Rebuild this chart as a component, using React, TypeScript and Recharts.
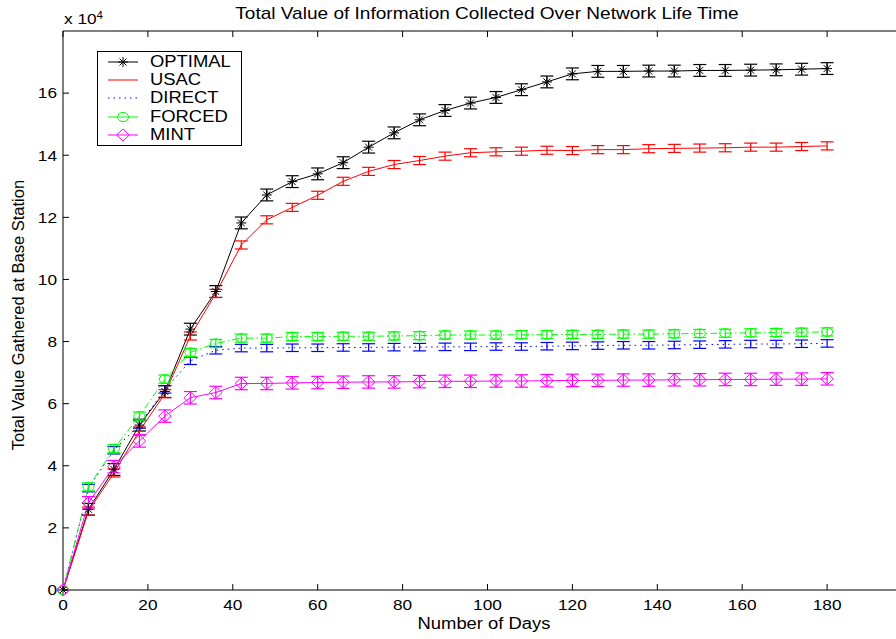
import { LineChart, Line, XAxis, YAxis, ErrorBar, Legend } from 'recharts'

const FONT = '"Liberation Sans", Arial, Helvetica, sans-serif'
const STRETCH = 1.15

const days = [0, 6, 12, 18, 24, 30, 36, 42, 48, 54, 60, 66, 72, 78, 84, 90, 96, 102, 108, 114, 120, 126, 132, 138, 144, 150, 156, 162, 168, 174, 180]

// values in units of 10^4
const optimal = [0, 2.6, 3.88, 5.31, 6.39, 8.4, 9.61, 11.82, 12.72, 13.15, 13.4, 13.76, 14.26, 14.72, 15.14, 15.44, 15.68, 15.86, 16.11, 16.36, 16.62, 16.7, 16.7, 16.71, 16.71, 16.73, 16.73, 16.74, 16.75, 16.77, 16.79]
const usac = [0, 2.54, 3.77, 5.12, 6.32, 8.18, 9.55, 11.11, 11.92, 12.32, 12.71, 13.16, 13.48, 13.7, 13.83, 13.97, 14.08, 14.11, 14.13, 14.16, 14.15, 14.18, 14.18, 14.21, 14.22, 14.23, 14.24, 14.26, 14.26, 14.28, 14.3]
const direct = [0, 3.28, 4.5, 5.33, 6.46, 7.38, 7.72, 7.79, 7.79, 7.8, 7.8, 7.81, 7.81, 7.82, 7.82, 7.83, 7.83, 7.84, 7.84, 7.85, 7.86, 7.87, 7.88, 7.88, 7.89, 7.9, 7.91, 7.92, 7.92, 7.93, 7.94]
const forced = [0, 3.32, 4.55, 5.6, 6.79, 7.65, 7.94, 8.11, 8.11, 8.16, 8.16, 8.17, 8.17, 8.18, 8.19, 8.21, 8.21, 8.21, 8.22, 8.22, 8.23, 8.23, 8.24, 8.24, 8.25, 8.26, 8.27, 8.28, 8.29, 8.3, 8.31]
const mint = [0, 2.81, 3.97, 4.8, 5.6, 6.19, 6.36, 6.65, 6.65, 6.67, 6.68, 6.69, 6.7, 6.7, 6.71, 6.72, 6.72, 6.73, 6.73, 6.74, 6.75, 6.75, 6.76, 6.76, 6.77, 6.77, 6.78, 6.78, 6.79, 6.79, 6.8]

// half-height of the error bars
const optimalErr = 0.19
const usacErr = 0.13
const directErr = 0.12
const forcedErr = 0.13
const mintErr = 0.2

const xTicks = [0, 20, 40, 60, 80, 100, 120, 140, 160, 180]
const yTicks = [0, 2, 4, 6, 8, 10, 12, 14, 16]

const rows = days.map((day, i) => ({
  day,
  optimal: optimal[i],
  usac: usac[i],
  direct: direct[i],
  forced: forced[i],
  mint: mint[i],
  optimalErr: day === 0 ? 0 : optimalErr,
  usacErr: day === 0 ? 0 : usacErr,
  directErr: day === 0 ? 0 : directErr,
  forcedErr: day === 0 ? 0 : forcedErr,
  mintErr: day === 0 ? 0 : mintErr,
}))

function AxisTick(props: any) {
  const { x, y, payload, textAnchor, verticalAnchor } = props
  const dy = verticalAnchor === 'start' ? '0.71em' : verticalAnchor === 'end' ? '0' : '0.355em'
  return (
    <g transform={`translate(${x},${y}) scale(${STRETCH},1)`}>
      <text x={0} y={0} dy={dy} textAnchor={textAnchor} fill="#000" fontSize={15} fontFamily={FONT}>
        {payload.value}
      </text>
    </g>
  )
}

const NoTick = () => <g />

function Star({ cx, cy }: { cx: number; cy: number }) {
  const r = 5
  const d = 3.5
  return (
    <g stroke="#000" strokeWidth={1}>
      <line x1={cx - r} y1={cy} x2={cx + r} y2={cy} />
      <line x1={cx} y1={cy - r} x2={cx} y2={cy + r} />
      <line x1={cx - d} y1={cy - d} x2={cx + d} y2={cy + d} />
      <line x1={cx - d} y1={cy + d} x2={cx + d} y2={cy - d} />
    </g>
  )
}

function Ring({ cx, cy }: { cx: number; cy: number }) {
  return <ellipse cx={cx} cy={cy} rx={5.5} ry={4.6} fill="none" stroke="#00ff00" strokeWidth={1} />
}

function Diamond({ cx, cy }: { cx: number; cy: number }) {
  const w = 6.3
  const h = 6
  return (
    <polygon
      points={`${cx},${cy - h} ${cx + w},${cy} ${cx},${cy + h} ${cx - w},${cy}`}
      fill="none"
      stroke="#ff00ff"
      strokeWidth={1}
    />
  )
}

const legendItems = [
  { name: 'OPTIMAL', color: '#000000', dash: undefined, mark: Star },
  { name: 'USAC', color: '#ff0000', dash: undefined, mark: null },
  { name: 'DIRECT', color: '#0000ff', dash: '1.5 4', mark: null },
  { name: 'FORCED', color: '#00ff00', dash: undefined, mark: Ring },
  { name: 'MINT', color: '#ff00ff', dash: undefined, mark: Diamond },
]

function LegendBox() {
  return (
    <div
      style={{
        position: 'relative',
        width: 145,
        height: 95,
        boxSizing: 'border-box',
        border: '1px solid #000',
        background: '#fff',
      }}
    >
      {legendItems.map((it, i) => {
        const Mark = it.mark
        const cy = 10 + i * 18.2
        return (
          <div key={it.name} style={{ position: 'absolute', left: 0, top: cy - 9, height: 18, width: 143 }}>
            <svg width={34} height={18} style={{ position: 'absolute', left: 10, top: 0 }}>
              <line x1={0} y1={9} x2={30} y2={9} stroke={it.color} strokeWidth={1} strokeDasharray={it.dash} />
              {Mark && <Mark cx={15} cy={9} />}
            </svg>
            <span
              style={{
                position: 'absolute',
                left: 52,
                top: 1,
                fontFamily: FONT,
                fontSize: 16,
                lineHeight: '16px',
                color: '#000',
                whiteSpace: 'nowrap',
                transform: `scaleX(${STRETCH})`,
                transformOrigin: 'left center',
              }}
            >
              {it.name}
            </span>
          </div>
        )
      })}
    </div>
  )
}

export default function App() {
  return (
    <div
      style={{
        position: 'absolute',
        left: 0,
        top: 0,
        width: 896,
        height: 639,
        overflow: 'hidden',
        background: '#fff',
        fontFamily: FONT,
      }}
    >
      <LineChart width={920} height={639} data={rows} margin={{ top: 0, right: 8, bottom: 0, left: 0 }}>
        <XAxis
          dataKey="day"
          type="number"
          domain={[0, 200]}
          ticks={xTicks}
          height={49}
          stroke="#000"
          tickSize={-6}
          tickMargin={15}
          tick={AxisTick}
        />
        <XAxis
          xAxisId="top"
          orientation="top"
          dataKey="day"
          type="number"
          domain={[0, 200]}
          ticks={xTicks}
          height={31}
          stroke="#000"
          tickSize={-6}
          tick={NoTick}
        />
        <YAxis
          type="number"
          domain={[0, 18]}
          ticks={yTicks}
          width={63}
          stroke="#000"
          tickSize={-6}
          tickMargin={12}
          tick={AxisTick}
        />
        <Legend
          layout="vertical"
          align="center"
          verticalAlign="middle"
          content={LegendBox}
          wrapperStyle={{ left: 97, top: 51, width: 145, height: 95 }}
        />
        <Line
          dataKey="optimal"
          name="OPTIMAL"
          type="linear"
          stroke="#000000"
          strokeWidth={1}
          dot={(p: any) => <Star key={`s${p.index}`} cx={p.cx} cy={p.cy} />}
          activeDot={false}
          isAnimationActive={false}
        >
          <ErrorBar dataKey="optimalErr" width={6.5} stroke="#000000" strokeWidth={1.2} direction="y" isAnimationActive={false} />
        </Line>
        <Line
          dataKey="usac"
          name="USAC"
          type="linear"
          stroke="#ff0000"
          strokeWidth={1}
          dot={false}
          activeDot={false}
          isAnimationActive={false}
        >
          <ErrorBar dataKey="usacErr" width={6.5} stroke="#ff0000" strokeWidth={1.2} direction="y" isAnimationActive={false} />
        </Line>
        <Line
          dataKey="direct"
          name="DIRECT"
          type="linear"
          stroke="#0000ff"
          strokeWidth={1}
          strokeDasharray="1.5 4"
          dot={false}
          activeDot={false}
          isAnimationActive={false}
        >
          <ErrorBar dataKey="directErr" width={6.5} stroke="#0000ff" strokeWidth={1.2} direction="y" isAnimationActive={false} />
        </Line>
        <Line
          dataKey="forced"
          name="FORCED"
          type="linear"
          stroke="#00ff00"
          strokeWidth={1}
          strokeDasharray="7 3 1.5 3"
          dot={(p: any) => <Ring key={`r${p.index}`} cx={p.cx} cy={p.cy} />}
          activeDot={false}
          isAnimationActive={false}
        >
          <ErrorBar dataKey="forcedErr" width={6.5} stroke="#00ff00" strokeWidth={1.2} direction="y" isAnimationActive={false} />
        </Line>
        <Line
          dataKey="mint"
          name="MINT"
          type="linear"
          stroke="#ff00ff"
          strokeWidth={1}
          dot={(p: any) => <Diamond key={`d${p.index}`} cx={p.cx} cy={p.cy} />}
          activeDot={false}
          isAnimationActive={false}
        >
          <ErrorBar dataKey="mintErr" width={6.5} stroke="#ff00ff" strokeWidth={1.2} direction="y" isAnimationActive={false} />
        </Line>
      </LineChart>

      <div
        style={{
          position: 'absolute',
          left: 487,
          top: 5,
          fontSize: 17,
          lineHeight: '17px',
          whiteSpace: 'nowrap',
          transform: `translateX(-50%) scaleX(1.12)`,
          color: '#000',
        }}
      >
        Total Value of Information Collected Over Network Life Time
      </div>
      <div
        style={{
          position: 'absolute',
          left: 64,
          top: 11,
          fontSize: 15,
          lineHeight: '15px',
          whiteSpace: 'nowrap',
          transform: `scaleX(${STRETCH})`,
          transformOrigin: 'left center',
          color: '#000',
        }}
      >
        x 10<sup style={{ fontSize: 10, verticalAlign: 'top', position: 'relative', top: -3 }}>4</sup>
      </div>
      <div
        style={{
          position: 'absolute',
          left: 484,
          top: 616,
          fontSize: 16,
          lineHeight: '16px',
          whiteSpace: 'nowrap',
          transform: `translateX(-50%) scaleX(${STRETCH})`,
          color: '#000',
        }}
      >
        Number of Days
      </div>
      <div
        style={{
          position: 'absolute',
          left: 18 - 160,
          top: 315 - 8,
          width: 320,
          textAlign: 'center',
          fontSize: 16.5,
          lineHeight: '16px',
          whiteSpace: 'nowrap',
          transform: 'rotate(-90deg)',
          color: '#000',
        }}
      >
        Total Value Gathered at Base Station
      </div>
    </div>
  )
}
